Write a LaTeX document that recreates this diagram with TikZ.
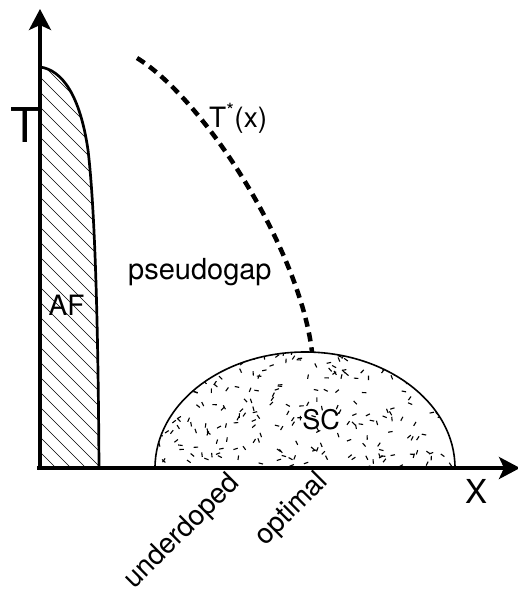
\documentclass[tikz,border=0pt]{standalone}
\usepackage{fontspec}
\setmainfont{TeX Gyre Heros}
\usetikzlibrary{arrows.meta}
\begin{document}
\begin{tikzpicture}[x=1pt,y=-1pt,
  lbl/.style={inner sep=0pt, font=\fontsize{28}{30}\selectfont},
  axisline/.style={line width=3.5pt, -{Stealth[length=21pt,width=22pt,inset=5pt]}},
  hatch/.style={line width=0.7pt},
  speck/.style={line width=1.1pt},
  tstar/.style={line width=4.5pt, dash pattern=on 9pt off 6pt}
]
\useasboundingbox (0,0) rectangle (518,594);
\fill[white] (0,0) rectangle (518,594);

% AF region with hatching
\begin{scope}
  \clip (40,468) -- (40,67) .. controls (62,70) and (80,95) .. (88,150)
        .. controls (94,200) and (98,300) .. (99,468) -- cycle;
  \foreach \i in {-6,...,32} { \draw[hatch] (38,\i*15) -- ++(200,200); }
\end{scope}
\draw[line width=2.7pt] (40,67) .. controls (62,70) and (80,95) .. (88,150)
        .. controls (94,200) and (98,300) .. (99,468);

% SC dome with speckle texture
\begin{scope}
  \clip (155,468) arc[start angle=180,end angle=0,x radius=150pt,y radius=116pt] -- cycle;
  \pgfmathsetseed{4242}
  \foreach \k in {1,...,270} {
    \pgfmathsetmacro\px{155+300*rnd}
    \pgfmathsetmacro\py{352+116*rnd}
    \pgfmathsetmacro\pa{180*rnd}
    \draw[speck] (\px,\py) -- ++(\pa:4.5pt);
  }
\end{scope}
\draw[line width=1.6pt] (155,468) arc[start angle=180,end angle=0,x radius=150pt,y radius=116pt];
\coordinate (domeTop) at (312,352);

% T*(x) crossover line
\coordinate (tsStart) at (137,58);
\draw[tstar] (tsStart) .. controls (205,100) and (300,250) .. (domeTop);

% axes
\coordinate (ytip) at (40,9);
\coordinate (xtip) at (520,468);
\draw[axisline] (40,470) -- (ytip);
\draw[axisline] (37,468) -- (xtip);

% labels
\node[lbl, font=\fontsize{48}{50}\selectfont, anchor=base] (Tlab) at (25.5,142) {T};
\node[lbl, font=\fontsize{33}{36}\selectfont, anchor=base] (Xlab) at (476,503) {X};
\node[lbl, anchor=base west] (tsl) at (209,127) {T\textsuperscript{*}(x)};
\node[lbl, font=\fontsize{29}{30}\selectfont, anchor=base west] (pg) at (128,279) {pseudogap};
\node[lbl, anchor=base] (af) at (66.5,315) {AF};
\node[lbl, font=\fontsize{27}{30}\selectfont, anchor=base] (sc) at (321,429) {SC};
\node[lbl, rotate=45] (ud) at (182.5,532) {underdoped};
\node[lbl, rotate=45] (opt) at (292,509.5) {optimal};
\end{tikzpicture}
\end{document}
